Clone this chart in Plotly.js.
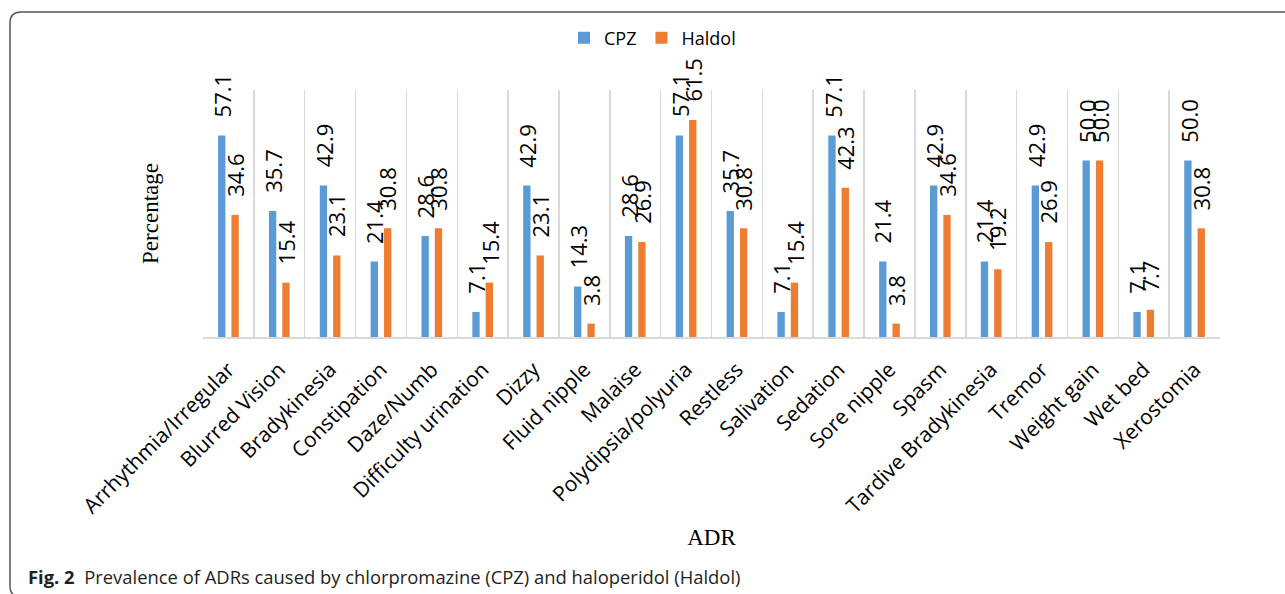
<!DOCTYPE html>
<html>
<head>
<meta charset="utf-8">
<script src="https://cdn.plot.ly/plotly-3.0.1.min.js"></script>
<style>
  html, body { margin: 0; padding: 0; background: #fff; }
  #chart { width: 1285px; height: 594px; }
</style>
</head>
<body>
<div id="chart"></div>
<script>
// ---- Data ----
const categories = [
  "Arrhythmia/Irregular", "Blurred Vision", "Bradykinesia", "Constipation", "Daze/Numb",
  "Difficulty urination", "Dizzy", "Fluid nipple", "Malaise", "Polydipsia/polyuria",
  "Restless", "Salivation", "Sedation", "Sore nipple", "Spasm",
  "Tardive Bradykinesia", "Tremor", "Weight gain", "Wet bed", "Xerostomia"
];
const cpzValues = [57.1, 35.7, 42.9, 21.4, 28.6, 7.1, 42.9, 14.3, 28.6, 57.1,
                   35.7, 7.1, 57.1, 21.4, 42.9, 21.4, 42.9, 50.0, 7.1, 50.0];
const haldolValues = [34.6, 15.4, 23.1, 30.8, 30.8, 15.4, 23.1, 3.8, 26.9, 61.5,
                      30.8, 15.4, 42.3, 3.8, 34.6, 19.2, 26.9, 50.0, 7.7, 30.8];
const seriesNames = ["CPZ", "Haldol"];
const xTitle = "ADR";
const yTitle = "Percentage";
const caption = "<b>Fig. 2</b>\u00a0 Prevalence of ADRs caused by chlorpromazine (CPZ) and haloperidol (Haldol)";

// ---- Styling ----
const W = 1285, H = 594;
const M = { l: 203, r: 65, t: 90, b: 257 };
const plotW = W - M.l - M.r, plotH = H - M.t - M.b;
const px2x = px => (px - M.l) / plotW;
const py2y = py => (H - M.b - py) / plotH;
const blue = "#5B9BD5", orange = "#ED7D31";
const sans = "Open Sans, sans-serif";
const serif = "Liberation Serif, Times New Roman, serif";

const traces = [
  { type: "bar", name: seriesNames[0], x: categories, y: cpzValues,
    marker: { color: blue }, hoverinfo: "x+y" },
  { type: "bar", name: seriesNames[1], x: categories, y: haldolValues,
    marker: { color: orange }, hoverinfo: "x+y" }
];

const labelFont = { family: sans, size: 22, color: "#000" };
const annotations = [];
[cpzValues, haldolValues].forEach((vals, s) => {
  vals.forEach((v, i) => {
    annotations.push({
      x: categories[i], y: v, xref: "x", yref: "y",
      text: v.toFixed(1), showarrow: false, textangle: -90,
      xanchor: "center", yanchor: "bottom",
      xshift: s === 0 ? -6.5 : 6.5, yshift: 16,
      font: labelFont
    });
  });
});
annotations.push({
  xref: "paper", yref: "paper", x: px2x(26), y: py2y(576),
  xanchor: "left", yanchor: "middle", showarrow: false, align: "left",
  text: caption, font: { family: sans, size: 18.4, color: "#231f20" }
});

// rounded frame
const fx = px2x, fy = py2y;
const framePath = `M ${fx(1300)},${fy(597)} L ${fx(21)},${fy(597)} Q ${fx(10)},${fy(597)} ${fx(10)},${fy(586)} ` +
  `L ${fx(10)},${fy(23)} Q ${fx(10)},${fy(12)} ${fx(21)},${fy(12)} L ${fx(1300)},${fy(12)}`;

const layout = {
  width: W, height: H, autosize: false,
  margin: M,
  paper_bgcolor: "#fff", plot_bgcolor: "#fff",
  barmode: "group", bargap: 0.475, bargroupgap: 0.45,
  showlegend: true,
  legend: { orientation: "h", x: px2x(564), xanchor: "left", y: py2y(38), yanchor: "middle",
            font: { family: sans, size: 18, color: "#000" }, itemwidth: 30, tracegroupgap: 0 },
  xaxis: {
    type: "category", tickson: "boundaries", showgrid: true, gridcolor: "#d9d9d9", gridwidth: 1.5,
    showline: true, linecolor: "#d9d9d9", linewidth: 2, ticks: "", tickangle: -45,
    ticklabelstandoff: 10,
    tickfont: { family: sans, size: 21, color: "#000" },
    title: { text: xTitle, font: { family: serif, size: 23, color: "#000" }, standoff: 11 },
    zeroline: false, fixedrange: true
  },
  yaxis: {
    range: [0, 70], showgrid: false, showticklabels: false, zeroline: false, ticks: "",
    showline: false, fixedrange: true,
    title: { text: yTitle, font: { family: serif, size: 23, color: "#000" }, standoff: 36 }
  },
  annotations: annotations,
  shapes: [{ type: "path", xref: "paper", yref: "paper", path: framePath,
             line: { color: "#555", width: 1.5 } }]
};

Plotly.newPlot("chart", traces, layout, { displayModeBar: false, staticPlot: true });
</script>
</body>
</html>
